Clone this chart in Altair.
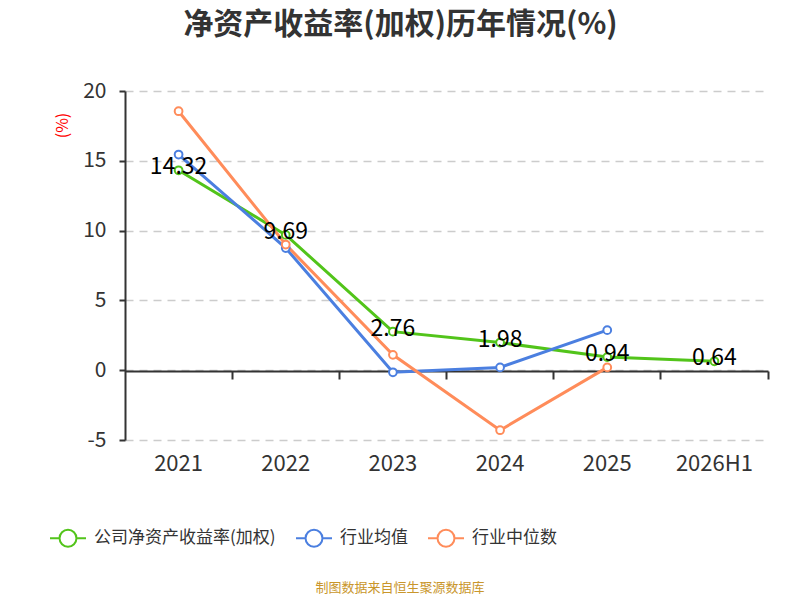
import altair as alt
import pandas as pd

years = ["2021", "2022", "2023", "2024", "2025", "2026H1"]
series_names = ["公司净资产收益率(加权)", "行业均值", "行业中位数"]
company = [14.32, 9.69, 2.76, 1.98, 0.94, 0.64]
ind_mean = [15.45, 8.75, -0.15, 0.2, 2.87, None]
ind_median = [18.55, 9.0, 1.1, -4.3, 0.2, None]
colors = ["#52c41a", "#4b7fe0", "#ff8c5a"]
source_text = "制图数据来自恒生聚源数据库"
title_text = "净资产收益率(加权)历年情况(%)"

rows = []
for name, vals in zip(series_names, [company, ind_mean, ind_median]):
    for y, v in zip(years, vals):
        if v is not None:
            rows.append({"year": y, "series": name, "value": v})
df = pd.DataFrame(rows)
df_company = df[df["series"] == series_names[0]]

FONT = "Noto Sans CJK SC"
xscale = alt.Scale(type="band", domain=years, paddingInner=0, paddingOuter=0)
yscale = alt.Scale(domain=[-5, 20], nice=False)
cscale = alt.Scale(domain=series_names, range=colors)

axis_zero = alt.Axis(
    title=None, labels=False, grid=False, offset=-69, bandPosition=1,
    domainColor="#333333", domainWidth=2, tickColor="#333333", tickWidth=2,
    tickSize=8, orient="bottom",
)
axis_labels = alt.Axis(
    title=None, domain=False, ticks=False, grid=False, labelFontSize=22,
    labelColor="#333333", labelPadding=13, labelFont=FONT, orient="bottom",
    labelAngle=0,
)
yaxis = alt.Axis(
    values=[-5, 0, 5, 10, 15, 20], title="(%)", titleColor="#ff0000",
    titleFontSize=16, titleFontWeight="normal", titleFont=FONT,
    titleX=-63, titleY=34, titleAngle=270, titleAlign="center", titleBaseline="middle",
    grid=True, gridColor="#cccccc", gridDash=[8, 6], gridWidth=1.5,
    domainColor="#333333", domainWidth=2, tickColor="#333333", tickWidth=2,
    tickSize=6, labelFontSize=21, labelColor="#333333", labelPadding=13, labelFont=FONT,
    labelExpr="replace(datum.label, '−', '-')",
)

legend_path = ("M-1,0L-0.47,0M0.47,0L1,0M0.47,0A0.47,0.47,0,1,1,-0.47,0"
               "A0.47,0.47,0,1,1,0.47,0")

lines = alt.Chart(df).mark_line(strokeWidth=3).encode(
    x=alt.X("year:N", scale=xscale, axis=axis_zero, sort=years),
    y=alt.Y("value:Q", scale=yscale, axis=yaxis),
    color=alt.Color(
        "series:N", scale=cscale, sort=series_names,
        legend=alt.Legend(
            title=None, orient="none", legendX=-76, legendY=428, direction="horizontal",
            symbolType=legend_path, symbolSize=1296, symbolStrokeWidth=2,
            symbolFillColor="white", labelFontSize=17, labelColor="#333333",
            labelFont=FONT, labelOffset=7, columnPadding=16, labelLimit=400,
        ),
    ),
)

points = alt.Chart(df).mark_point(filled=True, fill="white", size=60, strokeWidth=2, opacity=1).encode(
    x=alt.X("year:N", scale=xscale, axis=axis_labels, sort=years),
    y=alt.Y("value:Q", scale=yscale, axis=yaxis),
    stroke=alt.Stroke("series:N", scale=cscale, legend=None),
)

labels = alt.Chart(df_company).mark_text(fontSize=23, color="#000000", dy=-3, font=FONT).encode(
    x=alt.X("year:N", scale=xscale, axis=None, sort=years),
    y=alt.Y("value:Q", scale=yscale, axis=yaxis),
    text=alt.Text("value:Q", format=".2f"),
)

source = alt.Chart(pd.DataFrame({"t": [source_text]})).mark_text(
    fontSize=13, color="#c9962b", font=FONT
).encode(
    x=alt.value(275), y=alt.value(497), text="t:N"
)

chart = alt.layer(lines, points, labels, source).resolve_axis(x="independent").properties(
    width=643, height=349,
    autosize=alt.AutoSizeParams(type="none"),
    padding={"left": 117, "top": 83, "right": 16, "bottom": 158},
    title=alt.Title(title_text, fontSize=30, fontWeight="bold", color="#333333",
                    font=FONT, offset=40, dx=-46, anchor="middle"),
).configure_view(stroke=None)

chart.save("out.html", embed_options={"renderer": "svg", "actions": False})
